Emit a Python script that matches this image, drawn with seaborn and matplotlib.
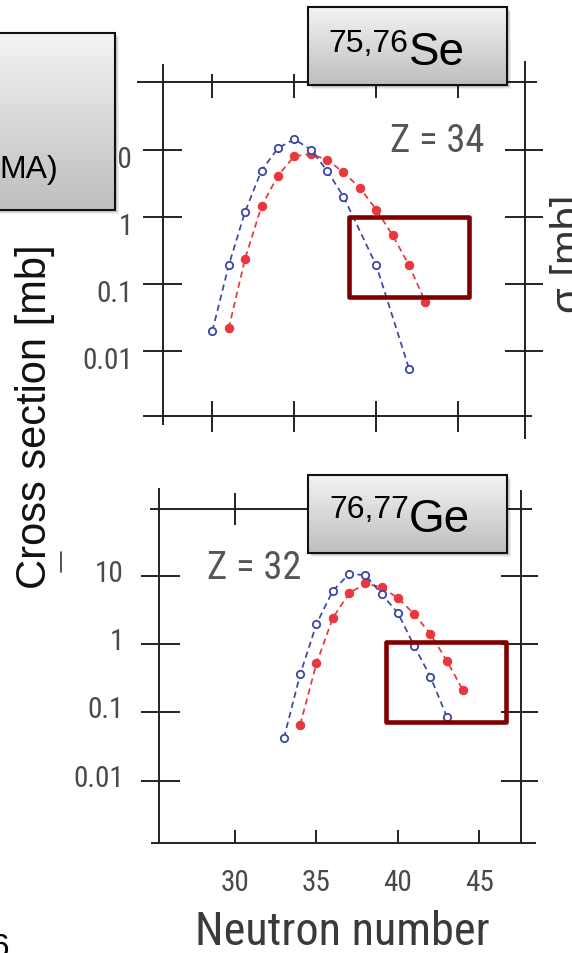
import numpy as np
import pandas as pd
import matplotlib
matplotlib.use("Agg")
import matplotlib.pyplot as plt
import seaborn as sns
from matplotlib import font_manager as fm
from matplotlib.patches import Rectangle
from matplotlib.lines import Line2D
from matplotlib.ticker import NullLocator
from matplotlib.transforms import blended_transform_factory as blend, ScaledTranslation

# ---------------- data ----------------
se_n_open = [30, 31, 32, 33, 34, 35, 36, 37, 38, 40, 42]
se_sigma_open = [0.020, 0.19, 1.2, 4.9, 10.5, 14.4, 10.0, 4.9, 2.0, 0.19, 0.0055]
se_n_filled = [31, 32, 33, 34, 35, 36, 37, 38, 39, 40, 41, 42, 43]
se_sigma_filled = [0.022, 0.24, 1.44, 4.1, 8.0, 8.6, 7.1, 4.6, 2.7, 1.28, 0.53, 0.19, 0.054]

ge_n_open = [33, 34, 35, 36, 37, 38, 39, 40, 41, 42, 43]
ge_sigma_open = [0.042, 0.36, 1.96, 6.0, 10.6, 10.2, 5.4, 2.84, 0.94, 0.33, 0.087]
ge_n_filled = [34, 35, 36, 37, 38, 39, 40, 41, 42, 43, 44]
ge_sigma_filled = [0.066, 0.52, 2.4, 5.5, 7.7, 6.8, 4.7, 2.75, 1.40, 0.57, 0.21]

n_ticks = [30, 35, 40, 45]
n_tick_labels = ["30", "35", "40", "45"]
sigma_ticks = [0.01, 0.1, 1, 10]
sigma_tick_labels = ["0.01", "0.1", "1", "10"]

se_mass, se_elem, se_z = "75,76", "Se", "Z = 34"
ge_mass, ge_elem, ge_z = "76,77", "Ge", "Z = 32"
x_title = "Neutron number"
y_title = "Cross section [mb]"
y2_title = "σ [mb]"

# ---------------- style ----------------
sns.set_theme(style="white")
plt.rcParams["font.family"] = ["Liberation Sans", "DejaVu Sans"]


def find_narrow():
    prefs = ["Roboto Condensed", "Liberation Sans Narrow", "Open Sans Condensed",
             "DejaVu Sans", "Noto Sans", "Open Sans", "Roboto"]
    for p in prefs:
        for f in fm.fontManager.ttflist:
            if f.name != p or f.style != "normal":
                continue
            if str(f.weight) not in ("400", "normal", "regular", "book"):
                continue
            if ("Condensed" in p or "Narrow" in p
                    or str(f.stretch) in ("condensed", "semi-condensed")):
                return {"family": [f.name, "DejaVu Sans"], "fontstretch": f.stretch}
    return {"family": ["Roboto", "Liberation Sans", "DejaVu Sans"]}


NARROW = find_narrow()

BLUE = "#3a46a6"
RED = "#e8383e"
FRAME = "#222222"
GRAYTXT = "#4a4a4a"
DARKRED = "#800000"

W, H = 572, 954
fig = plt.figure(figsize=(W / 100, H / 100), dpi=100)
fig.patch.set_facecolor("white")
renderer = fig.canvas.get_renderer()


def fx(px):
    return px / W


def fy(py):
    return 1 - py / H


def fit_size(s, target_px, size0=20, **props):
    t = fig.text(0.5, 0.5, s, fontsize=size0, **props)
    w = t.get_window_extent(renderer).width
    t.remove()
    return size0 * target_px / w


TICK_FS = fit_size("0.01", 51, **NARROW)
Z_FS = fit_size(se_z, 94, **NARROW)
XT_FS = fit_size(x_title, 294, **NARROW)


def axes_px(l, t, r, b, **kw):
    return fig.add_axes([l / W, 1 - b / H, (r - l) / W, (b - t) / H], **kw)


def draw_series(ax, n_o, s_o, n_f, s_f):
    df_f = pd.DataFrame({"N": n_f, "sigma": s_f})
    df_o = pd.DataFrame({"N": n_o, "sigma": s_o})
    sns.lineplot(data=df_f, x="N", y="sigma", ax=ax, estimator=None, sort=False,
                 color=RED, linewidth=1.25, linestyle=(0, (3.6, 2.4)),
                 marker="o", markersize=6.0, markerfacecolor=RED,
                 markeredgecolor=RED, markeredgewidth=0.8)
    sns.lineplot(data=df_o, x="N", y="sigma", ax=ax, estimator=None, sort=False,
                 color=BLUE, linewidth=1.25, linestyle=(0, (3.6, 2.4)),
                 marker="o", markersize=5.3, markerfacecolor="white",
                 markeredgecolor=BLUE, markeredgewidth=1.3)


def frame(ax, top, bottom, left, right, yl, yr, xt, xb):
    kw = dict(transform=ax.transAxes, clip_on=False, color=FRAME, lw=1.4,
              solid_capstyle="butt")
    ax.plot(top, [1, 1], **kw)
    ax.plot(bottom, [0, 0], **kw)
    ax.plot([0, 0], left, **kw)
    ax.plot([1, 1], right, **kw)
    ty = blend(ax.transAxes, ax.transData)
    tx = blend(ax.transData, ax.transAxes)
    kw2 = dict(clip_on=False, color=FRAME, lw=1.4, solid_capstyle="butt")
    for v in sigma_ticks:
        ax.plot(yl, [v, v], transform=ty, **kw2)
        ax.plot(yr, [v, v], transform=ty, **kw2)
    for n in n_ticks:
        ax.plot([n, n], xt, transform=tx, **kw2)
        ax.plot([n, n], xb, transform=tx, **kw2)


def base_axes(ax, xlim, ylim):
    ax.set_yscale("log")
    ax.set_xlim(*xlim)
    ax.set_ylim(*ylim)
    for s in ax.spines.values():
        s.set_visible(False)
    ax.grid(False)
    ax.set_facecolor("none")
    ax.yaxis.set_minor_locator(NullLocator())
    ax.xaxis.set_minor_locator(NullLocator())
    ax.tick_params(which="both", length=0)
    ax.set_xlabel("")
    ax.set_ylabel("")


# ---------------- top panel (Se) ----------------
ax1 = axes_px(163.3, 82.7, 525, 416.7)
draw_series(ax1, se_n_open, se_sigma_open, se_n_filled, se_sigma_filled)
base_axes(ax1, (27.01, 49.07), (10 ** -2.958, 10 ** 2.012))
ax1.set_xticks(n_ticks)
ax1.set_xticklabels([])
ax1.set_yticks(sigma_ticks)
ax1.set_yticklabels(sigma_tick_labels, fontsize=TICK_FS, color=GRAYTXT, **NARROW)
ax1.tick_params(axis="y", pad=22.0)
for lab in ax1.get_yticklabels():
    lab.set_transform(lab.get_transform() + ScaledTranslation(0, -0.06, fig.dpi_scale_trans))
frame(ax1, [-0.0727, 1.0323], [-0.0561, 1.0202], [-0.027, 1.053], [-0.0698, 1.0629],
      [-0.0561, 0.0509], [0.9447, 1.0506], [0.9512, 1.023], [-0.0497, 0.0449])

# ---------------- bottom panel (Ge) ----------------
ax2 = axes_px(159.3, 510, 520.7, 844.3)
draw_series(ax2, ge_n_open, ge_sigma_open, ge_n_filled, ge_sigma_filled)
base_axes(ax2, (25.35, 47.54), (10 ** -2.916, 10 ** 1.976))
ax2.set_xticks(n_ticks)
ax2.set_xticklabels(n_tick_labels, fontsize=TICK_FS, color=GRAYTXT, **NARROW)
ax2.tick_params(axis="x", pad=17.5)
ax2.set_yticks(sigma_ticks)
ax2.set_yticklabels(sigma_tick_labels, fontsize=TICK_FS, color=GRAYTXT, **NARROW)
ax2.tick_params(axis="y", pad=25.5)
for lab in ax2.get_yticklabels():
    lab.set_transform(lab.get_transform() + ScaledTranslation(0, 0.06, fig.dpi_scale_trans))
frame(ax2, [-0.0257, 1.032], [-0.0238, 1.0423], [0, 1.062], [0, 1.0577],
      [-0.0506, 0.0573], [0.9447, 1.0487], [0.9521, 1.0479], [0, 0.0407])
ax2.set_xlabel(x_title, fontsize=XT_FS, color="#3a3a3a", **NARROW)
ax2.xaxis.set_label_coords((342.5 - 159.3) / 361.4, -(945 - 844.3) / 334.3)
ax2.xaxis.label.set_va("baseline")

# Z labels
fig.text(fx(390), fy(151.7), se_z, ha="left", va="baseline", fontsize=Z_FS,
         color="#555555", **NARROW)
fig.text(fx(207.3), fy(579.3), ge_z, ha="left", va="baseline", fontsize=Z_FS,
         color="#555555", **NARROW)

# axis titles
fig.text(fx(46), fy(417), y_title, rotation=90, rotation_mode="anchor",
         ha="center", va="baseline", fontsize=30, color="#111111")
fig.text(fx(581), fy(254), y2_title, rotation=90, rotation_mode="anchor",
         ha="center", va="baseline", fontsize=30, color="#333333")

# ---------------- highlight rectangles ----------------
for (l, t, r, b) in [(349, 218.3, 469, 298), (386, 642.5, 506, 722.5)]:
    fig.add_artist(Rectangle((fx(l), fy(b)), (r - l) / W, (b - t) / H,
                             transform=fig.transFigure, fill=False, ec=DARKRED,
                             lw=3.3, joinstyle="round", zorder=30))


# ---------------- gradient label boxes ----------------
def grad_box(l, t, r, b):
    for k, a in [(4, 0.06), (3, 0.08), (2, 0.10)]:
        fig.add_artist(Rectangle((fx(l + k), fy(b + k)), (r - l) / W, (b - t) / H,
                                 transform=fig.transFigure, fc="black", ec="none",
                                 alpha=a, zorder=19))
    bax = axes_px(l, t, r, b, zorder=20)
    top_c = np.array([0.955, 0.955, 0.955])
    bot_c = np.array([0.745, 0.745, 0.745])
    g = np.linspace(0, 1, 120)[:, None, None]
    img = top_c + (bot_c - top_c) * g
    img = np.repeat(img, 2, axis=1)
    bax.imshow(img, aspect="auto", extent=[0, 1, 0, 1], origin="upper",
               interpolation="bilinear")
    bax.set_xlim(0, 1)
    bax.set_ylim(0, 1)
    bax.axis("off")
    bax.add_patch(Rectangle((0, 0), 1, 1, transform=bax.transAxes, fill=False,
                            ec="#111111", lw=1.5, clip_on=False))


grad_box(-10, 34.3, 115, 210.7)
grad_box(308.3, 8.3, 506.7, 86)
grad_box(308.3, 476, 506.7, 554)

fig.text(fx(58.5), fy(178), "MA)", ha="right", va="baseline", fontsize=23,
         color="black", zorder=25)
fig.text(fx(328.3), fy(51.7), se_mass, ha="left", va="baseline", fontsize=23,
         color="black", zorder=25)
fig.text(fx(409), fy(65), se_elem, ha="left", va="baseline", fontsize=33,
         color="black", zorder=25)
fig.text(fx(329.3), fy(518.3), ge_mass, ha="left", va="baseline", fontsize=23,
         color="black", zorder=25)
fig.text(fx(409), fy(531.7), ge_elem, ha="left", va="baseline", fontsize=33,
         color="black", zorder=25)

# stray fragments at the slide edges
fig.text(fx(9), fy(933), "6", ha="right", va="top", fontsize=24, color="black")
fig.add_artist(Line2D([fx(61), fx(61)], [fy(553), fy(573)], transform=fig.transFigure,
                      color="#333333", lw=1.2))

fig.savefig("out.png", dpi=100, facecolor="white")
